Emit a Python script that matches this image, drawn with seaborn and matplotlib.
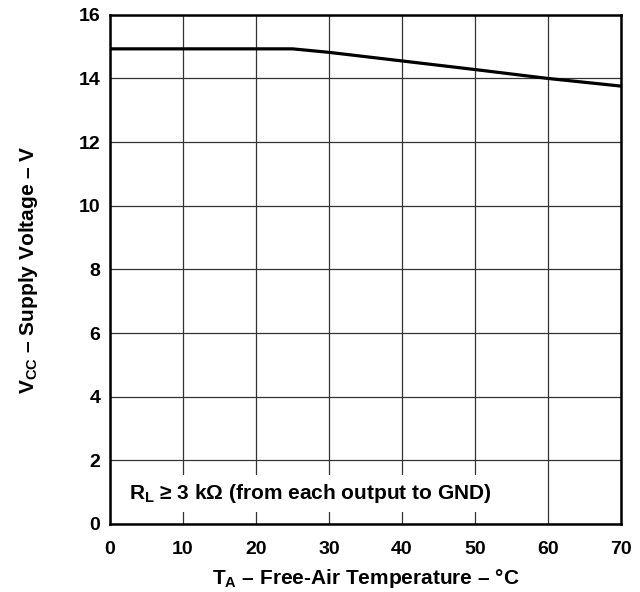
import matplotlib
matplotlib.use("Agg")
import matplotlib.pyplot as plt
import seaborn as sns
import pandas as pd

temps = [0, 25, 30, 40, 50, 60, 70]
vcc = [14.93, 14.93, 14.82, 14.55, 14.28, 14.0, 13.76]
x_ticks = [0, 10, 20, 30, 40, 50, 60, 70]
y_ticks = [0, 2, 4, 6, 8, 10, 12, 14, 16]

sns.set_theme(style="white")
plt.rcParams['font.family'] = ['Liberation Sans', 'DejaVu Sans']
plt.rcParams['font.weight'] = 'bold'
plt.rcParams['mathtext.fontset'] = 'custom'
plt.rcParams['mathtext.rm'] = 'Liberation Sans:bold'
plt.rcParams['mathtext.bf'] = 'Liberation Sans:bold'
plt.rcParams['mathtext.it'] = 'Liberation Sans:bold'

df = pd.DataFrame({"T": temps, "V": vcc})
fig, ax = plt.subplots(figsize=(6.4, 5.92), dpi=100)
fig.subplots_adjust(left=0.172, right=0.970, top=0.975, bottom=0.115)

sns.lineplot(data=df, x="T", y="V", ax=ax, color="black", linewidth=2.3, zorder=3)

ax.set_xlim(0, 70)
ax.set_ylim(0, 16)
ax.set_xticks(x_ticks)
ax.set_yticks(y_ticks)
ax.grid(True, color="#333333", linewidth=0.9)
for s in ax.spines.values():
    s.set_color("black")
    s.set_linewidth(1.8)
ax.tick_params(axis="both", length=0, labelsize=14, colors="black")
ax.tick_params(axis="x", pad=12)
ax.tick_params(axis="y", pad=7)
for lab in ax.get_xticklabels() + ax.get_yticklabels():
    lab.set_fontweight("bold")

ax.set_xlabel(r"T$_{\mathrm{A}}$ – Free-Air Temperature – °C", fontsize=15,
              fontweight="bold", color="black", labelpad=7)
ax.set_ylabel(r"V$_{\mathrm{CC}}$ – Supply Voltage – V", fontsize=15,
              fontweight="bold", color="black", labelpad=28)

ax.text(2.6, 0.95, r"R$_{\mathrm{L}}$ ≥ 3 kΩ (from each output to GND)", fontsize=15,
        fontweight="bold", color="black", va="center", ha="left", zorder=4,
        bbox=dict(facecolor="white", edgecolor="none", pad=5))

fig.savefig("out.png", dpi=100)
